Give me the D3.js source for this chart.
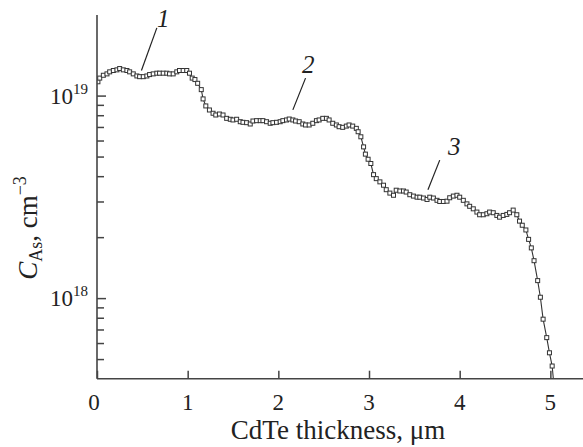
<!DOCTYPE html>
<meta charset="utf-8">
<style>
  body { margin: 0; background: #fff; }
  svg { display: block; }
  text { font-family: 'Liberation Serif', 'Times New Roman', serif; fill: #222; }
</style>
<body>
<div id="chart"></div>
<script src="https://d3js.org/d3.v7.min.js"></script>
<script>
// CdTe thickness (um) and As concentration (cm^-3)
var thickness = [
  0.01, 0.03, 0.07, 0.11, 0.14, 0.18, 0.22, 0.25, 0.29, 0.33,
  0.36, 0.40, 0.44, 0.47, 0.51, 0.55, 0.58, 0.62, 0.66, 0.69,
  0.73, 0.77, 0.80, 0.84, 0.88, 0.91, 0.95, 0.99, 1.02, 1.05,
  1.08, 1.11, 1.15, 1.17, 1.20, 1.24, 1.28, 1.31, 1.35, 1.39,
  1.43, 1.47, 1.50, 1.54, 1.58, 1.61, 1.65, 1.69, 1.72, 1.76,
  1.80, 1.83, 1.87, 1.91, 1.94, 1.98, 2.02, 2.05, 2.09, 2.12,
  2.16, 2.19, 2.23, 2.27, 2.30, 2.34, 2.38, 2.42, 2.45, 2.49,
  2.53, 2.56, 2.60, 2.64, 2.67, 2.71, 2.75, 2.78, 2.82, 2.86,
  2.88, 2.91, 2.94, 2.96, 2.99, 3.02, 3.05, 3.08, 3.12, 3.16,
  3.19, 3.23, 3.27, 3.30, 3.34, 3.38, 3.41, 3.45, 3.49, 3.53,
  3.56, 3.60, 3.64, 3.67, 3.71, 3.75, 3.78, 3.82, 3.86, 3.89,
  3.93, 3.97, 4.00, 4.04, 4.08, 4.11, 4.15, 4.19, 4.22, 4.26,
  4.30, 4.33, 4.37, 4.41, 4.44, 4.48, 4.52, 4.55, 4.59, 4.63,
  4.66, 4.69, 4.73, 4.76, 4.79, 4.82, 4.86, 4.89, 4.92, 4.96,
  4.99, 5.02, 5.05
];
var conc = [
  1.17e19, 1.22e19, 1.26e19, 1.28e19, 1.31e19, 1.33e19, 1.34e19, 1.36e19, 1.34e19, 1.33e19,
  1.31e19, 1.28e19, 1.25e19, 1.24e19, 1.24e19, 1.25e19, 1.27e19, 1.28e19, 1.29e19, 1.29e19,
  1.29e19, 1.29e19, 1.28e19, 1.28e19, 1.31e19, 1.33e19, 1.33e19, 1.33e19, 1.29e19, 1.22e19,
  1.20e19, 1.15e19, 1.07e19, 9.63e18, 8.89e18, 8.49e18, 8.18e18, 8.02e18, 8.11e18, 8.02e18,
  7.72e18, 7.64e18, 7.58e18, 7.64e18, 7.43e18, 7.38e18, 7.35e18, 7.24e18, 7.49e18, 7.52e18,
  7.52e18, 7.52e18, 7.43e18, 7.30e18, 7.35e18, 7.38e18, 7.43e18, 7.52e18, 7.58e18, 7.66e18,
  7.58e18, 7.49e18, 7.43e18, 7.24e18, 7.16e18, 7.16e18, 7.30e18, 7.52e18, 7.58e18, 7.72e18,
  7.72e18, 7.58e18, 7.30e18, 7.16e18, 7.02e18, 6.97e18, 7.07e18, 7.16e18, 7.07e18, 6.89e18,
  6.63e18, 6.26e18, 5.58e18, 5.14e18, 4.85e18, 4.62e18, 4.07e18, 3.89e18, 3.75e18, 3.61e18,
  3.43e18, 3.30e18, 3.22e18, 3.41e18, 3.38e18, 3.38e18, 3.34e18, 3.24e18, 3.19e18, 3.15e18,
  3.15e18, 3.12e18, 3.07e18, 3.15e18, 3.12e18, 3.04e18, 3.00e18, 3.00e18, 3.01e18, 3.13e18,
  3.19e18, 3.22e18, 3.15e18, 3.04e18, 2.92e18, 2.84e18, 2.76e18, 2.66e18, 2.58e18, 2.58e18,
  2.61e18, 2.66e18, 2.64e18, 2.56e18, 2.51e18, 2.56e18, 2.59e18, 2.64e18, 2.72e18, 2.58e18,
  2.40e18, 2.29e18, 2.17e18, 1.95e18, 1.77e18, 1.53e18, 1.22e18, 1.01e18, 7.87e17, 6.38e17,
  5.37e17, 4.62e17, 3.30e17
];
var xTicks = [0, 1, 2, 3, 4, 5];
var yMajor = [1e18, 1e19];
var yMinor = [5e17, 6e17, 7e17, 8e17, 9e17, 2e18, 3e18, 4e18, 5e18, 6e18, 7e18, 8e18, 9e18];
// curve numbers: leader line from (x0,y0) on the curve to (x1,y1), label at (lx,ly)
var notes = [
  {label: "1", x0: 0.49, y0: 1.33e19, x1: 0.66, y1: 2.16e19, lx: 0.73, ly: 2.19e19},
  {label: "2", x0: 2.16, y0: 8.5e18, x1: 2.30, y1: 1.22e19, lx: 2.33, ly: 1.30e19},
  {label: "3", x0: 3.65, y0: 3.43e18, x1: 3.78, y1: 4.8e18, lx: 3.94, ly: 5.08e18}
];

var width = 583, height = 447;
var margin = {top: 15, right: 0, bottom: 69, left: 97};

var svg = d3.select("#chart").append("svg")
  .attr("width", width)
  .attr("height", height);

var x = d3.scaleLinear()
  .domain([0, 5.36])
  .range([margin.left, width - margin.right]);

var y = d3.scaleLog()
  .domain([4e17, 2.5e19])
  .range([height - margin.bottom + 0.7, margin.top]);

var data = thickness.map(function(t, i) { return {t: t, c: conc[i]}; });

svg.append("clipPath").attr("id", "clip")
  .append("rect")
    .attr("x", margin.left)
    .attr("y", margin.top)
    .attr("width", width - margin.left)
    .attr("height", y.range()[0] - margin.top);

var plot = svg.append("g").attr("clip-path", "url(#clip)");

plot.append("path")
  .datum(data)
  .attr("fill", "none")
  .attr("stroke", "#333")
  .attr("stroke-width", 1.1)
  .attr("d", d3.line().x(function(d) { return x(d.t); }).y(function(d) { return y(d.c); }));

plot.selectAll("rect.pt")
  .data(data)
  .enter().append("rect")
    .attr("class", "pt")
    .attr("x", function(d) { return x(d.t) - 2; })
    .attr("y", function(d) { return y(d.c) - 2; })
    .attr("width", 4)
    .attr("height", 4)
    .attr("fill", "#fff")
    .attr("stroke", "#333")
    .attr("stroke-width", 1);

// axes
var axisColor = "#444";
var x0 = margin.left, yBottom = y.range()[0];

var xAxis = svg.append("g")
  .attr("transform", "translate(0," + yBottom + ")")
  .call(d3.axisBottom(x).tickValues(xTicks).tickSize(-8).tickFormat(""));
xAxis.select(".domain").remove();
xAxis.selectAll("line").attr("stroke", axisColor).attr("stroke-width", 1.5);

svg.append("line")
  .attr("x1", x0).attr("x2", width)
  .attr("y1", yBottom).attr("y2", yBottom)
  .attr("stroke", axisColor).attr("stroke-width", 1.6);

svg.append("line")
  .attr("x1", x0).attr("x2", x0)
  .attr("y1", margin.top).attr("y2", yBottom)
  .attr("stroke", axisColor).attr("stroke-width", 1.6);

var yAxisMaj = svg.append("g")
  .attr("transform", "translate(" + x0 + ",0)")
  .call(d3.axisLeft(y).tickValues(yMajor).tickSize(-9).tickFormat(""));
yAxisMaj.select(".domain").remove();
yAxisMaj.selectAll("line").attr("stroke", axisColor).attr("stroke-width", 1.5);

var yAxisMin = svg.append("g")
  .attr("transform", "translate(" + x0 + ",0)")
  .call(d3.axisLeft(y).tickValues(yMinor).tickSize(-7).tickFormat(""));
yAxisMin.select(".domain").remove();
yAxisMin.selectAll("line").attr("stroke", axisColor).attr("stroke-width", 1.5);

// tick labels
svg.selectAll("text.xl")
  .data(xTicks)
  .enter().append("text")
    .attr("class", "xl")
    .attr("x", function(d) { return x(d) - (d === 0 ? 3 : 0); })
    .attr("y", yBottom + 31)
    .attr("text-anchor", "middle")
    .style("font-size", "23px")
    .text(function(d) { return d; });

var yl = svg.selectAll("text.yl")
  .data(yMajor)
  .enter().append("text")
    .attr("class", "yl")
    .attr("x", 88)
    .attr("y", function(d) { return y(d) + 8; })
    .attr("text-anchor", "end")
    .style("font-size", "23px");
yl.append("tspan").text("10");
yl.append("tspan")
  .attr("dy", -10)
  .style("font-size", "15px")
  .text(function(d) { return Math.round(Math.log10(d)); });

// axis titles
svg.append("text")
  .attr("x", 338)
  .attr("y", 439)
  .attr("text-anchor", "middle")
  .style("font-size", "27px")
  .text("CdTe thickness, \u03bcm");

var yt = svg.append("text")
  .attr("transform", "translate(37,228) rotate(-90)")
  .attr("text-anchor", "middle")
  .style("font-size", "27px");
yt.append("tspan").style("font-style", "italic").text("C");
yt.append("tspan").attr("dy", 5).style("font-size", "18px").text("As");
yt.append("tspan").attr("dy", -5).text(", cm");
yt.append("tspan").attr("dy", -11).style("font-size", "18px").text("\u22123");

// curve labels with leader lines
var noteG = svg.selectAll("g.note")
  .data(notes)
  .enter().append("g").attr("class", "note");
noteG.append("line")
  .attr("x1", function(d) { return x(d.x0); })
  .attr("y1", function(d) { return y(d.y0); })
  .attr("x2", function(d) { return x(d.x1); })
  .attr("y2", function(d) { return y(d.y1); })
  .attr("stroke", "#222").attr("stroke-width", 1.2);
noteG.append("text")
  .attr("x", function(d) { return x(d.lx); })
  .attr("y", function(d) { return y(d.ly); })
  .attr("text-anchor", "middle")
  .style("font-size", "25px")
  .style("font-style", "italic")
  .text(function(d) { return d.label; });
</script>
</body>
